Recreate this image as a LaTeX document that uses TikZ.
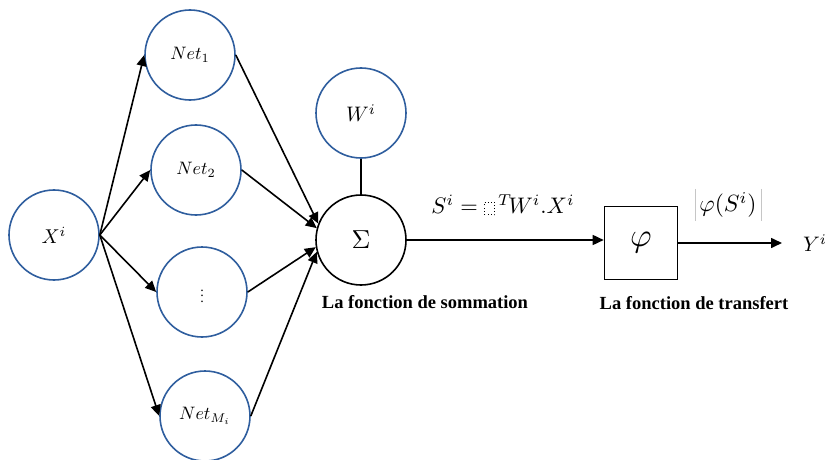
\documentclass[tikz,border=0pt]{standalone}
\usepackage{graphicx}
\usepackage{fontspec}
\setmainfont{Liberation Serif}
\usetikzlibrary{arrows.meta}
\definecolor{nblue}{RGB}{47,94,158}
\newcommand{\msc}[2]{\scalebox{#1}{$#2$}}
\begin{document}
\begin{tikzpicture}[x=1pt,y=-1pt,
  neuron/.style={circle,draw=nblue,line width=1.6pt,minimum size=90pt,inner sep=0pt},
  sumnode/.style={circle,draw=black,line width=1.6pt,minimum size=90pt,inner sep=0pt},
  arr/.style={-{Triangle[length=11pt,width=10pt]},line width=1.6pt},
  lbl/.style={font=\bfseries\fontsize{18.5}{20}\selectfont}]
\useasboundingbox (0,0) rectangle (831,460);
\node[neuron] (X) at (54,235) {\msc{2}{X^i}};
\node[neuron] (N1) at (190,55) {\msc{1.8}{Net_1}};
\node[neuron] (N2) at (196,170) {\msc{1.8}{Net_2}};
\node[neuron] (N3) at (202,292) {\msc{1.4}{\vdots}};
\node[neuron] (NM) at (205,416) {\msc{1.8}{Net_{M_i}}};
\node[neuron] (W) at (361,113) {\msc{2.1}{W^i}};
\node[sumnode] (S) at (361,240) {\msc{2.6}{\Sigma}};
\node[draw,line width=1.6pt,minimum width=73pt,minimum height=73pt,inner sep=0pt] (P) at (641,243) {\msc{3.3}{\varphi}};
\node (Y) at (815,243) {\msc{2.1}{Y^i}};
\coordinate (out) at (782,243);
\node (F) at (503,205) {\scalebox{2.25}{$S^i = \mathord{\tikz[baseline=0pt]\draw[densely dotted,line width=0.4pt] (0pt,-0.5pt) rectangle (4.5pt,5pt);}^{\,T}\!W^i.X^i$}};
\node (PS) at (728,205) {\msc{2.35}{\varphi(S^i)}};
\draw[gray!45,line width=0.5pt] ([xshift=-1pt]PS.north west) -- ([xshift=-1pt]PS.south west);
\draw[gray!45,line width=0.5pt] ([xshift=1pt]PS.north east) -- ([xshift=1pt]PS.south east);
\node[lbl] (L1) at (425,302) {La fonction de sommation};
\node[lbl] (L2) at (694,303) {La fonction de transfert};
\draw[arr] (X.east) -- (N1.west);
\draw[arr] (X.east) -- (N2.west);
\draw[arr] (X.east) -- (N3.west);
\draw[arr] (X.east) -- (NM.west);
\draw[arr] (N1.east) -- (S.159);
\draw[arr] (N2.east) -- (S.165);
\draw[arr] (N3.east) -- (S.189);
\draw[arr] (NM.east) -- (S.195);
\draw[line width=2.4pt] (W.south) -- (S.north);
\draw[arr] (S.east) -- (S.east -| P.west);
\draw[arr] (P.east) -- (out);
\end{tikzpicture}
\end{document}
